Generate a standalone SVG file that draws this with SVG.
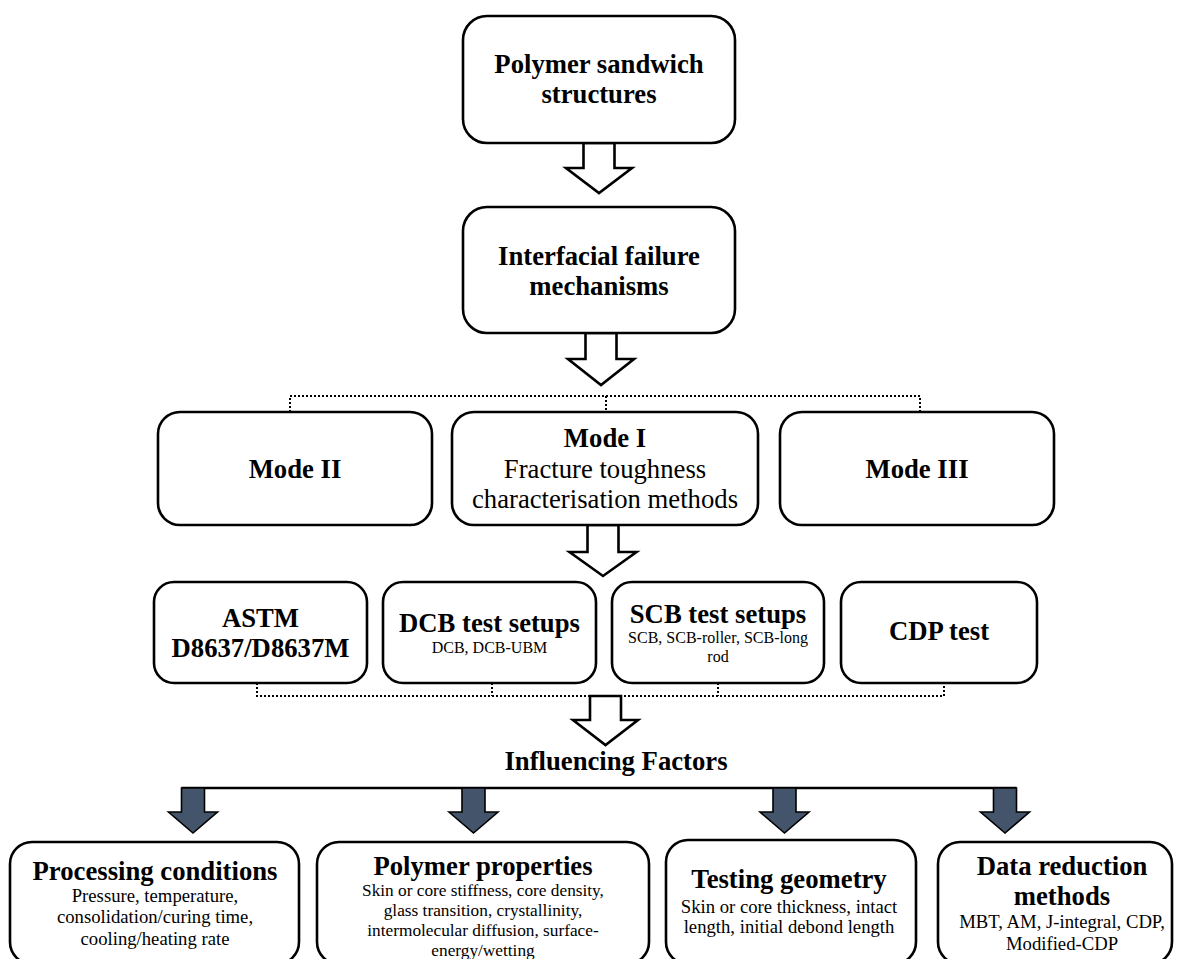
<svg xmlns="http://www.w3.org/2000/svg" width="1177" height="959" viewBox="0 0 1177 959">
<style>
.box{fill:#fff;stroke:#000;stroke-width:2.6}
.b{font-family:"Liberation Serif","Times New Roman",serif;font-weight:bold;font-size:26.7px;fill:#000;text-anchor:middle}
.r{font-family:"Liberation Serif","Times New Roman",serif;font-size:26.7px;fill:#000;text-anchor:middle}
.s{font-family:"Liberation Serif","Times New Roman",serif;font-size:18.7px;fill:#000;text-anchor:middle}
.sp{font-family:"Liberation Serif","Times New Roman",serif;font-size:17.3px;fill:#000;text-anchor:middle}
.xs{font-family:"Liberation Serif","Times New Roman",serif;font-size:16px;fill:#000;text-anchor:middle}
.dot{fill:none;stroke:#000;stroke-width:2;stroke-dasharray:2 2}
.hollow{fill:#fff;stroke:#000;stroke-width:2.6;stroke-linejoin:miter}
.dark{fill:#44546a;stroke:#000;stroke-width:1.6}
</style>
<rect width="1177" height="959" fill="#fff"/>
<g id="connectors">
<path class="hollow" d="M583.5,143 L614.5,143 L614.5,168 L632,168 L599,193 L566,168 L583.5,168 Z"/>
<path class="hollow" d="M585.5,333 L616.5,333 L616.5,359 L634,359 L601,385 L568,359 L585.5,359 Z"/>
<path class="dot" d="M290,412 V396 H920 V412 M606,396 V412"/>
<path class="hollow" d="M587.5,525 L618.5,525 L618.5,552 L636.5,552 L603,576 L569.5,552 L587.5,552 Z"/>
<path class="dot" d="M257,683 V696 H944 V683 M492,683 V696 M718,683 V696"/>
<path class="hollow" d="M590,696 L621,696 L621,720 L638,720 L605.5,745 L573,720 L590,720 Z"/>
<path d="M181.5,788 H1016.5" stroke="#000" stroke-width="2.6" fill="none"/>
<path class="dark" d="M181.5,788 L204.5,788 L204.5,812 L217.5,812 L193,833 L168.5,812 L181.5,812 Z"/>
<path class="dark" d="M462,788 L485,788 L485,812 L498,812 L473.5,833 L449,812 L462,812 Z"/>
<path class="dark" d="M773,788 L796,788 L796,812 L809,812 L784.5,833 L760,812 L773,812 Z"/>
<path class="dark" d="M993.5,788 L1016.5,788 L1016.5,812 L1029.5,812 L1005,833 L980.5,812 L993.5,812 Z"/>
</g>
<g id="node-polymer-sandwich">
<rect class="box" x="463" y="16" width="272" height="127" rx="24"/>
<text class="b" x="599" y="73">Polymer sandwich</text>
<text class="b" x="599" y="103">structures</text>
</g>
<g id="node-interfacial">
<rect class="box" x="463" y="207" width="272" height="126" rx="24"/>
<text class="b" x="599" y="265">Interfacial failure</text>
<text class="b" x="599" y="295">mechanisms</text>
</g>
<g id="node-mode2">
<rect class="box" x="158" y="412" width="274" height="113" rx="22"/>
<text class="b" x="295" y="478">Mode II</text>
</g>
<g id="node-mode1">
<rect class="box" x="452" y="412" width="306" height="113" rx="22"/>
<text class="b" x="605" y="447">Mode I</text>
<text class="r" x="605" y="478">Fracture toughness</text>
<text class="r" x="605" y="508">characterisation methods</text>
</g>
<g id="node-mode3">
<rect class="box" x="780" y="412" width="274" height="113" rx="22"/>
<text class="b" x="917" y="478">Mode III</text>
</g>
<g id="node-astm">
<rect class="box" x="154" y="582" width="213" height="101" rx="20"/>
<text class="b" x="260.5" y="627">ASTM</text>
<text class="b" x="260.5" y="657">D8637/D8637M</text>
</g>
<g id="node-dcb">
<rect class="box" x="383" y="582" width="213" height="101" rx="20"/>
<text class="b" x="489.5" y="632">DCB test setups</text>
<text class="xs" x="489.5" y="653">DCB, DCB-UBM</text>
</g>
<g id="node-scb">
<rect class="box" x="612" y="582" width="212" height="101" rx="20"/>
<text class="b" x="718" y="623">SCB test setups</text>
<text class="xs" x="718" y="643">SCB, SCB-roller, SCB-long</text>
<text class="xs" x="718" y="662">rod</text>
</g>
<g id="node-cdp">
<rect class="box" x="841" y="582" width="196" height="101" rx="20"/>
<text class="b" x="939" y="640">CDP test</text>
</g>
<g id="label-influencing">
<text class="b" x="616" y="770">Influencing Factors</text>
</g>
<g id="node-processing">
<rect class="box" x="10" y="842" width="289" height="122" rx="22"/>
<text class="b" x="155" y="880">Processing conditions</text>
<text class="s" x="155" y="902">Pressure, temperature,</text>
<text class="s" x="155" y="923">consolidation/curing time,</text>
<text class="s" x="155" y="945">cooling/heating rate</text>
</g>
<g id="node-polymer-properties">
<rect class="box" x="317" y="842" width="332" height="122" rx="22"/>
<text class="b" x="483" y="875">Polymer properties</text>
<text class="sp" x="483" y="896">Skin or core stiffness, core density,</text>
<text class="sp" x="483" y="916">glass transition, crystallinity,</text>
<text class="sp" x="483" y="936">intermolecular diffusion, surface-</text>
<text class="sp" x="483" y="956">energy/wetting</text>
</g>
<g id="node-testing">
<rect class="box" x="666" y="840" width="250" height="124" rx="22"/>
<text class="b" x="789" y="888">Testing geometry</text>
<text class="s" x="789" y="913">Skin or core thickness, intact</text>
<text class="s" x="789" y="933">length, initial debond length</text>
</g>
<g id="node-data">
<rect class="box" x="938" y="842" width="234" height="122" rx="22"/>
<text class="b" x="1062" y="875">Data reduction</text>
<text class="b" x="1062" y="905">methods</text>
<text class="s" x="1062" y="928">MBT, AM, J-integral, CDP,</text>
<text class="s" x="1062" y="950">Modified-CDP</text>
</g>
</svg>
